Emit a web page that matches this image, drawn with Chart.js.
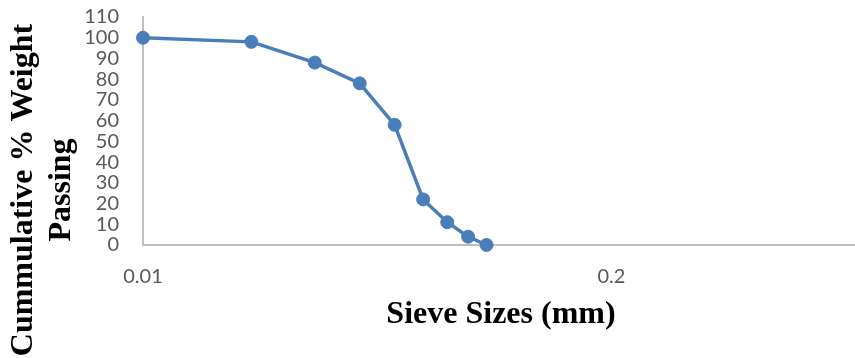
<!DOCTYPE html>
<html>
<head>
<meta charset="utf-8">
<script src="https://cdn.jsdelivr.net/npm/chart.js@4.4.1/dist/chart.umd.min.js"></script>
<style>
  html, body { margin: 0; padding: 0; background: #ffffff; }
  canvas { display: block; }
</style>
</head>
<body>
<canvas id="grading" width="855" height="358"></canvas>
<script>
// Particle size distribution: sieve size (mm) vs cumulative % passing
const sieveSizes = [0.01, 0.02, 0.03, 0.04, 0.05, 0.06, 0.07, 0.08, 0.09];
const percentPassing = [100, 98, 88, 78, 58, 22, 11, 4, 0];
const xTickValues = [0.01, 0.2];
const xRange = [0.01, 0.95];
const yRange = [0, 110];
const yStep = 10;
const xTitle = 'Sieve Sizes (mm)';
const yTitleLines = ['Cummulative % Weight', 'Passing'];

const lineColor = '#4A7EBB';
const axisColor = '#BFBFBF';
const tickColor = '#595959';
const tickFont = { family: 'Lato', size: 20 };
const titleFont = 'bold 32px "Liberation Serif"';

// Axis titles placed beside the plot area
const axisTitles = {
  id: 'axisTitles',
  afterDraw(chart) {
    const ctx = chart.ctx;
    const area = chart.chartArea;
    ctx.save();
    ctx.fillStyle = '#000000';
    ctx.font = titleFont;
    ctx.textAlign = 'center';
    ctx.textBaseline = 'alphabetic';
    ctx.fillText(xTitle, (area.left + area.right) / 2 + 2, 323);

    ctx.translate(0, 190);
    ctx.rotate(-Math.PI / 2);
    ctx.fillText(yTitleLines[0], 0, 32);
    ctx.fillText(yTitleLines[1], 0, 70);
    ctx.restore();
  }
};

new Chart(document.getElementById('grading'), {
  type: 'scatter',
  data: {
    datasets: [{
      data: sieveSizes.map((s, i) => ({ x: s, y: percentPassing[i] })),
      showLine: true,
      borderColor: lineColor,
      backgroundColor: lineColor,
      borderWidth: 3.5,
      pointRadius: 6.5,
      pointHoverRadius: 6.5,
      pointBorderWidth: 1,
      pointBorderColor: lineColor,
      pointBackgroundColor: lineColor,
      clip: false
    }]
  },
  options: {
    responsive: false,
    devicePixelRatio: 1,
    animation: false,
    events: [],
    layout: { autoPadding: false, padding: { top: 17, right: 0, bottom: 0, left: 0 } },
    plugins: {
      legend: { display: false },
      tooltip: { enabled: false },
      title: { display: false }
    },
    scales: {
      x: {
        type: 'logarithmic',
        min: xRange[0],
        max: xRange[1],
        grid: { display: false, drawTicks: false },
        border: { display: true, color: axisColor, width: 2 },
        ticks: {
          color: tickColor,
          font: tickFont,
          padding: 20,
          maxRotation: 0,
          autoSkip: false,
          callback: (v) => String(v)
        },
        afterBuildTicks(scale) {
          scale.ticks = xTickValues.map(v => ({ value: v }));
        },
        afterFit(scale) {
          scale.height = 113;
          scale.paddingLeft = 0;
          scale.paddingRight = 0;
        }
      },
      y: {
        min: yRange[0],
        max: yRange[1],
        grid: { display: false, drawTicks: false },
        border: { display: true, color: axisColor, width: 2 },
        ticks: {
          stepSize: yStep,
          color: tickColor,
          font: tickFont,
          padding: 24,
          autoSkip: false
        },
        afterFit(scale) {
          scale.width = 143;
          scale.paddingTop = 0;
          scale.paddingBottom = 0;
        }
      }
    }
  },
  plugins: [axisTitles]
});
</script>
</body>
</html>
